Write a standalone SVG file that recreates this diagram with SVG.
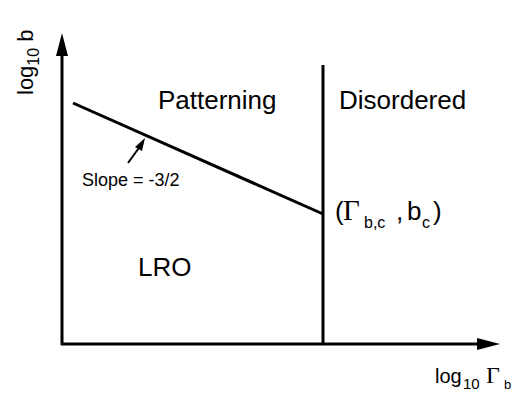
<svg xmlns="http://www.w3.org/2000/svg" width="524" height="395" viewBox="0 0 524 395">
<style>
.t{font-family:"Liberation Sans",Arial,sans-serif;fill:#000}
.s{font-family:"Liberation Serif","Times New Roman",serif;fill:#000}
.l{stroke:#000;stroke-width:3;fill:none}
</style>
<rect width="524" height="395" fill="#fff"/>
<g id="connectors">
<line class="l" x1="62" y1="345" x2="62" y2="56"/>
<path d="M62,33L56,56L68,56z" fill="#000"/>
<line class="l" x1="61" y1="344" x2="478" y2="344"/>
<path d="M500,344L477,338L477,350z" fill="#000"/>
<line class="l" x1="323" y1="65" x2="323" y2="344"/>
<line class="l" x1="73" y1="103" x2="323" y2="214"/>
<line x1="128" y1="163" x2="141" y2="145" stroke="#000" stroke-width="2"/>
<path d="M145,138L135,147L142,151z" fill="#000"/>
</g>
<g id="labels">
<text class="t" x="158" y="109" font-size="26">Patterning</text>
<text class="t" x="339" y="109" font-size="26">Disordered</text>
<text class="t" x="138" y="276" font-size="26">LRO</text>
<text class="t" x="82" y="186" font-size="18">Slope = -3/2</text>
<text class="t" x="335" y="220" font-size="26">(</text>
<text class="s" x="343" y="220" font-size="29">Γ</text>
<text class="t" x="364" y="228" font-size="16">b,c</text>
<text class="t" x="396" y="220" font-size="26">,</text>
<text class="t" x="407" y="220" font-size="26">b</text>
<text class="t" x="422" y="228" font-size="16">c</text>
<text class="t" x="433" y="220" font-size="26">)</text>
<text class="t" x="435" y="383" font-size="20">log</text>
<text class="t" x="463" y="389" font-size="15">10</text>
<text class="s" x="486" y="383" font-size="24">Γ</text>
<text class="t" x="504" y="389" font-size="13">b</text>
<text class="t" transform="translate(33,95) rotate(-90)" font-size="22">log<tspan font-size="16" dy="6">10</tspan><tspan dy="-6"> b</tspan></text>
</g>
</svg>
